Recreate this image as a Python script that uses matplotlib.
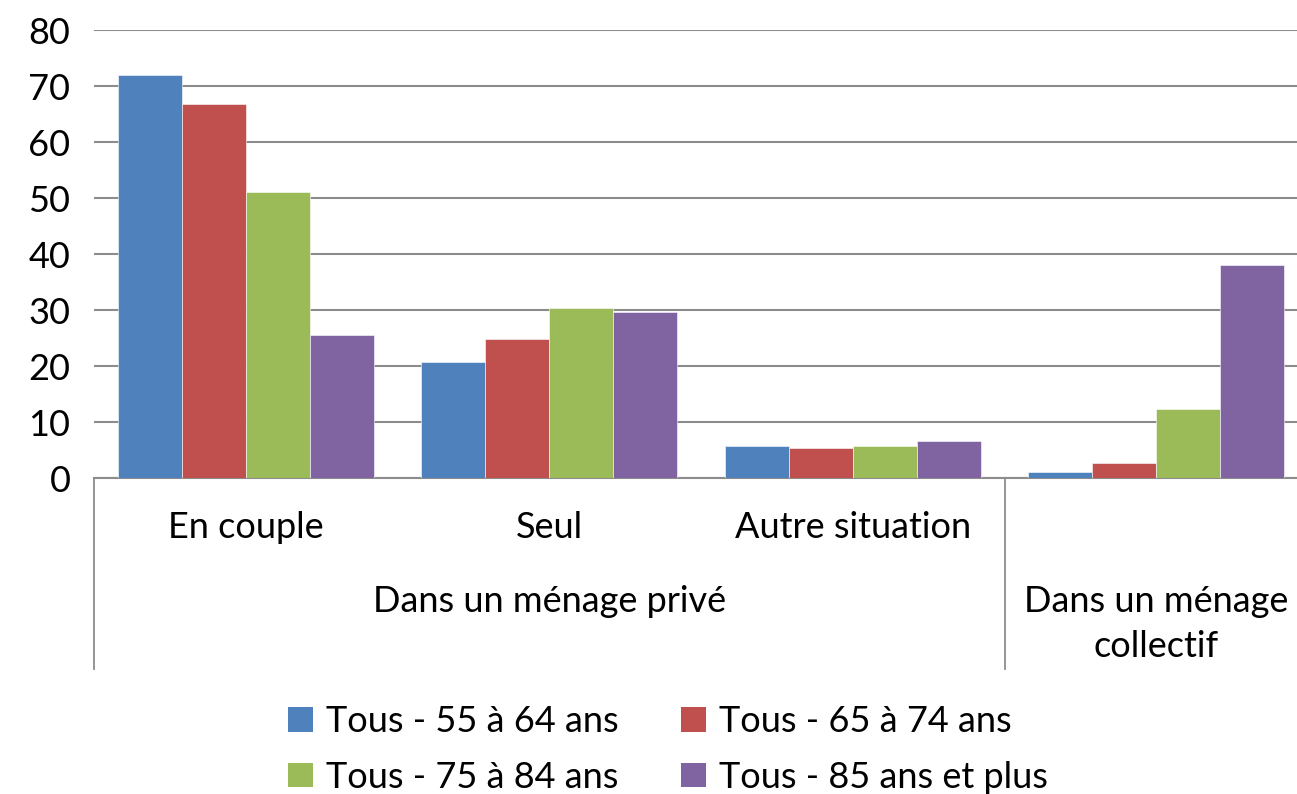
import numpy as np
import matplotlib.pyplot as plt
from matplotlib.patches import Patch

plt.rcParams['font.family'] = ['Lato', 'DejaVu Sans']

# data
sub_labels = ['En couple', 'Seul', 'Autre situation', '']
group_labels = ['Dans un ménage privé', 'Dans un ménage\ncollectif']
series = ['Tous - 55 à 64 ans', 'Tous - 65 à 74 ans',
          'Tous - 75 à 84 ans', 'Tous - 85 ans et plus']
age_55_64 = [72.0, 20.8, 5.8, 1.1]
age_65_74 = [66.8, 24.8, 5.4, 2.7]
age_75_84 = [51.1, 30.3, 5.8, 12.4]
age_85_plus = [25.5, 29.6, 6.6, 38.0]
colors = ['#4F81BD', '#C0504D', '#9BBB59', '#8064A2']

W, H = 1297, 794
fig = plt.figure(figsize=(W / 100, H / 100), dpi=100)
ax = fig.add_axes([94 / W, (H - 478) / H, (1308 - 94) / W, (478 - 30) / H])

x = np.arange(len(sub_labels))
bw = 0.211
values = [age_55_64, age_65_74, age_75_84, age_85_plus]
for i, (vals, c) in enumerate(zip(values, colors)):
    ax.bar(x + (i - 1.5) * bw, vals, bw, color=c, edgecolor='white',
           linewidth=0.4, zorder=3)

ax.set_xlim(-0.5, 3.5)
ax.set_ylim(0, 80)
ax.set_yticks(range(0, 81, 10))
ax.yaxis.grid(True, color='#8C8C8C', linewidth=1.5, zorder=0)
ax.tick_params(axis='y', length=0, pad=17, labelsize=26)
ax.set_xticks([])
for s in ['top', 'right', 'left']:
    ax.spines[s].set_visible(False)
ax.spines['bottom'].set_color('#8C8C8C')
ax.spines['bottom'].set_linewidth(1.5)

# category tree below the axis
tr = ax.get_xaxis_transform()
for xv in [-0.5, 2.5]:
    ax.plot([xv, xv], [0, -0.427], transform=tr, color='#8C8C8C',
            linewidth=1.3, clip_on=False)
for xi, lab in zip(x, sub_labels):
    ax.text(xi, -0.11, lab, transform=tr, ha='center', va='center',
            fontsize=26)
ax.text(1.0, -0.275, group_labels[0], transform=tr, ha='center',
        va='center', fontsize=26)
ax.text(3.0, -0.325, group_labels[1], transform=tr, ha='center',
        va='center', fontsize=26, linespacing=1.45)

# legend reads row by row: reorder for matplotlib's column filling
order = [0, 2, 1, 3]
handles = [Patch(facecolor=colors[k]) for k in order]
labels = [series[k] for k in order]
fig.legend(handles, labels, ncol=2, loc='upper center',
           bbox_to_anchor=(668 / W, 1 - 680 / H), frameon=False,
           fontsize=26, handlelength=0.68, handleheight=0.68,
           handletextpad=0.35, columnspacing=1.75, labelspacing=0.62,
           borderpad=0.2)

fig.savefig('out.png', dpi=100)
